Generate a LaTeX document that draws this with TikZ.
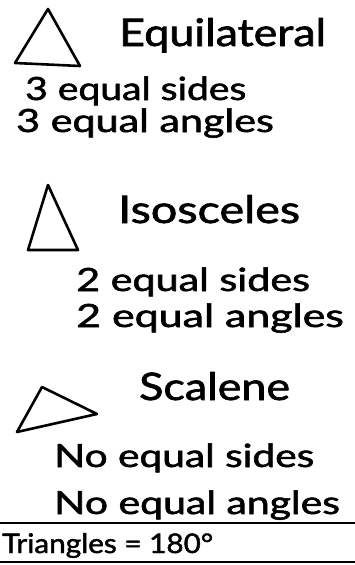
\documentclass[tikz,border=0pt]{standalone}
\usepackage{graphicx}
\usepackage{fontspec}
\setmainfont{Lato}[FakeBold=1.6]
\newcommand{\sx}[2]{\scalebox{#1}[1]{#2}}
\begin{document}
\begin{tikzpicture}[x=1pt,y=-1pt,
  tri/.style={draw=black,line width=2.6pt,line join=round},
  big/.style={anchor=base west,inner sep=0pt,font=\fontsize{38}{40}\selectfont},
  mid/.style={anchor=base west,inner sep=0pt,font=\fontsize{32}{34}\selectfont},
  rule/.style={draw=black,line width=1.6pt}]
\useasboundingbox (0,0) rectangle (355,565);
% Equilateral
\draw[tri] (48,9) -- (15,63) -- (80,66) -- cycle;
\node[big] (eq) at (119,46) {\sx{1.18}{Equilateral}};
\node[mid] (eq1) at (25,100) {\sx{1.22}{3 equal sides}};
\node[mid] (eq2) at (16,132) {\sx{1.29}{3 equal angles}};
% Isosceles
\draw[tri] (48,185) -- (28,250) -- (78,250) -- cycle;
\node[big] (is) at (118,223) {\sx{1.23}{Isosceles}};
\node[mid] (is1) at (76,291) {\sx{1.29}{2 equal sides}};
\node[mid] (is2) at (76,327) {\sx{1.34}{2 equal angles}};
% Scalene
\draw[tri] (17,432) -- (42,387) -- (97,414) -- cycle;
\node[big] (sc) at (139,400) {\sx{1.18}{Scalene}};
\node[mid] (sc1) at (54,467) {\sx{1.27}{No equal sides}};
\node[mid] (sc2) at (54,514) {\sx{1.28}{No equal angles}};
% footer
\coordinate (l1a) at (0,523); \coordinate (l1b) at (355,523);
\coordinate (l2a) at (0,562); \coordinate (l2b) at (355,562);
\draw[rule] (l1a) -- (l1b);
\draw[rule] (l2a) -- (l2b);
\node[anchor=base west,inner sep=0pt,font=\fontsize{27}{29}\selectfont] (tot) at (2,553) {\sx{1.1}{Triangles = 180°}};
\end{tikzpicture}
\end{document}
